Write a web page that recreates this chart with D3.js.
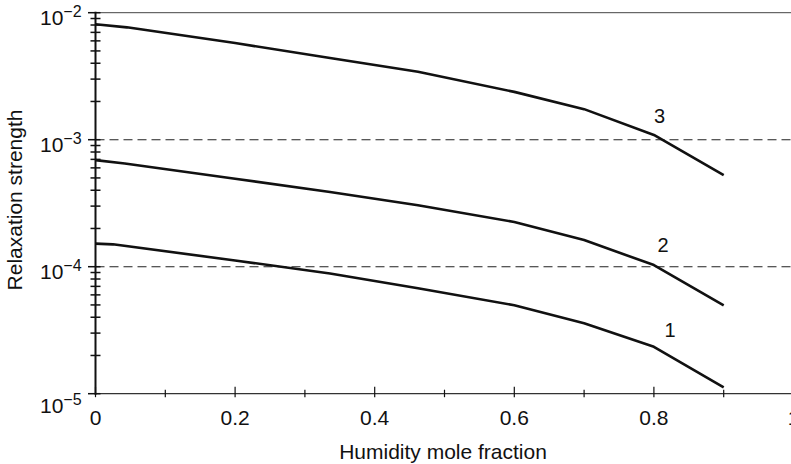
<!DOCTYPE html>
<html>
<head>
<meta charset="utf-8">
<script src="https://cdn.jsdelivr.net/npm/d3@7"></script>
<style>
  html, body { margin: 0; padding: 0; background: #fff; }
  svg { display: block; font-family: "Liberation Sans", Arial, Helvetica, sans-serif; }
</style>
</head>
<body>
<svg id="chart" width="791" height="464"></svg>
<script>
// Humidity mole fraction at which each curve is sampled
const curve1X = [0, 0.025, 0.2, 0.336, 0.462, 0.6, 0.7, 0.8, 0.9];
const curve1Y = [1.52e-4, 1.50e-4, 1.12e-4, 8.83e-5, 6.77e-5, 4.97e-5, 3.59e-5, 2.34e-5, 1.12e-5];

const curve2X = [0, 0.042, 0.2, 0.336, 0.462, 0.6, 0.7, 0.8, 0.9];
const curve2Y = [6.9e-4, 6.5e-4, 4.93e-4, 3.88e-4, 3.05e-4, 2.25e-4, 1.62e-4, 1.03e-4, 4.97e-5];

const curve3X = [0, 0.045, 0.2, 0.336, 0.462, 0.6, 0.7, 0.8, 0.9];
const curve3Y = [8.10e-3, 7.67e-3, 5.77e-3, 4.4e-3, 3.43e-3, 2.38e-3, 1.74e-3, 1.09e-3, 5.26e-4];

const curveNames = ["1", "2", "3"];
const xTickValues = [0, 0.1, 0.2, 0.3, 0.4, 0.5, 0.6, 0.7, 0.8, 0.9, 1.0];
const xTickLabels = ["0", "", "0.2", "", "0.4", "", "0.6", "", "0.8", "", "1"];
const yDecades = [-2, -3, -4, -5];
const referenceLevels = [1e-3, 1e-4];

const svg = d3.select("#chart");
const W = 791, H = 464;

const x = d3.scaleLinear().domain([0, 1]).range([95.5, 793.5]);
const y = d3.scaleLog().domain([1e-5, 1e-2]).range([393.7, 12.7]);

const black = "#111";

// frame: top border and bottom axis line
svg.append("line")
  .attr("x1", x(0)).attr("x2", W).attr("y1", y(1e-2)).attr("y2", y(1e-2))
  .attr("stroke", "#444").attr("stroke-width", 1);
svg.append("line")
  .attr("x1", x(0)).attr("x2", W).attr("y1", y(1e-5)).attr("y2", y(1e-5))
  .attr("stroke", "#333").attr("stroke-width", 1.3);

// dashed reference levels
svg.selectAll("line.ref").data(referenceLevels).join("line")
  .attr("class", "ref")
  .attr("x1", x(0)).attr("x2", W)
  .attr("y1", d => y(d)).attr("y2", d => y(d))
  .attr("stroke", "#222").attr("stroke-width", 1.1)
  .attr("stroke-dasharray", "9,5");

// x ticks (crossing the axis line, majors taller)
const xt = svg.append("g");
xTickValues.forEach((v, i) => {
  const major = i % 2 === 0;
  xt.append("line")
    .attr("x1", x(v)).attr("x2", x(v))
    .attr("y1", y(1e-5) - (major ? 7 : 4)).attr("y2", y(1e-5) + 3.5)
    .attr("stroke", black).attr("stroke-width", 1.2);
  if (xTickLabels[i]) {
    xt.append("text")
      .attr("x", x(v)).attr("y", y(1e-5) + 31)
      .attr("text-anchor", "middle")
      .attr("font-size", 21)
      .attr("fill", black)
      .text(xTickLabels[i]);
  }
});

// y axis line
svg.append("line")
  .attr("x1", x(0)).attr("x2", x(0))
  .attr("y1", y(1e-2) - 1).attr("y2", y(1e-5) + 1)
  .attr("stroke", black).attr("stroke-width", 2);

// y ticks: decades and minor 2..9
const yt = svg.append("g");
const minorVals = [];
for (let e = -5; e < -2; e++) {
  for (let m = 2; m <= 9; m++) minorVals.push(m * Math.pow(10, e));
}
yDecades.forEach(e => {
  const v = Math.pow(10, e);
  yt.append("line")
    .attr("x1", x(0) - 7.5).attr("x2", x(0) + 5)
    .attr("y1", y(v)).attr("y2", y(v))
    .attr("stroke", black).attr("stroke-width", 1.5);
});
minorVals.forEach(v => {
  yt.append("line")
    .attr("x1", x(0) - 5).attr("x2", x(0) + 5)
    .attr("y1", y(v)).attr("y2", y(v))
    .attr("stroke", black).attr("stroke-width", 1.5);
});

// decade labels 10^n
yDecades.forEach(e => {
  const v = Math.pow(10, e);
  const base = e === -5 ? y(v) + 19.5 : y(v) + 12.5;
  const t = yt.append("text")
    .attr("x", 40).attr("y", base)
    .attr("font-size", 21)
    .attr("fill", black);
  t.append("tspan").text("10");
  t.append("tspan")
    .attr("font-size", 16)
    .attr("dy", -8)
    .text("\u2212" + Math.abs(e));
});

// curves
const line = d3.line().x(d => x(d[0])).y(d => y(d[1]));
const curves = [
  d3.zip(curve1X, curve1Y),
  d3.zip(curve2X, curve2Y),
  d3.zip(curve3X, curve3Y)
];
svg.selectAll("path.curve").data(curves).join("path")
  .attr("class", "curve")
  .attr("d", line)
  .attr("fill", "none")
  .attr("stroke", black)
  .attr("stroke-width", 2.6)
  .attr("stroke-linejoin", "round");

// curve numbers just above the x = 0.8 knee
const labelAt = [[0.823, 2.8e-5], [0.813, 1.30e-4], [0.808, 1.35e-3]];
curveNames.forEach((n, i) => {
  svg.append("text")
    .attr("x", x(labelAt[i][0])).attr("y", y(labelAt[i][1]))
    .attr("text-anchor", "middle")
    .attr("font-size", 20)
    .attr("fill", black)
    .text(n);
});

// axis titles
svg.append("text")
  .attr("x", 443).attr("y", 459)
  .attr("text-anchor", "middle")
  .attr("font-size", 21)
  .attr("fill", black)
  .text("Humidity mole fraction");

svg.append("text")
  .attr("transform", "translate(22,200) rotate(-90)")
  .attr("text-anchor", "middle")
  .attr("font-size", 21)
  .attr("fill", black)
  .text("Relaxation strength");
</script>
</body>
</html>
